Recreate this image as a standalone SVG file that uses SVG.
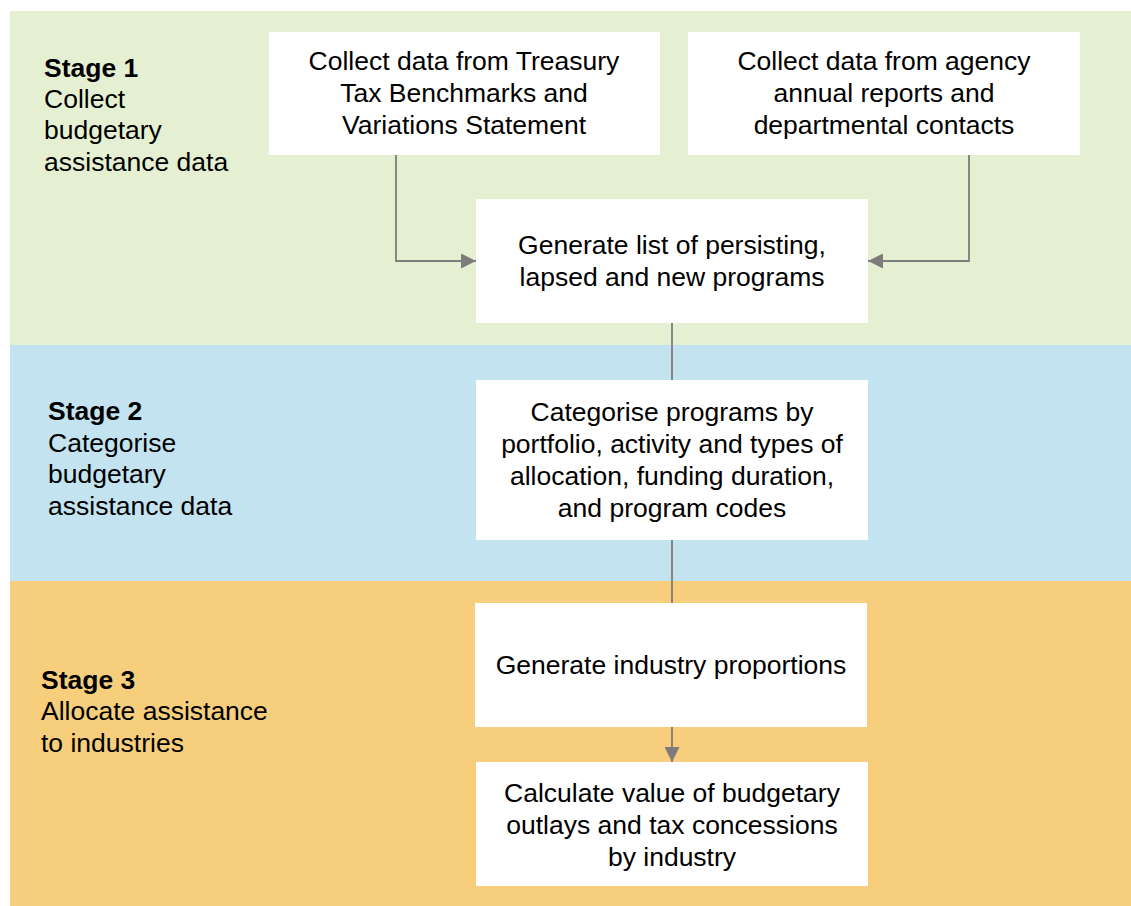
<svg xmlns="http://www.w3.org/2000/svg" width="1131" height="906" viewBox="0 0 1131 906">
<style>
text{font-family:"Liberation Sans",Arial,sans-serif;font-size:26.5px;fill:#000}
.c{text-anchor:middle}
.b{font-weight:bold}
.box{fill:#fff}
.ln{stroke:#7f7b7a;stroke-width:1.8;fill:none}
</style>
<defs>
<marker id="ah" viewBox="0 0 10 10" refX="10" refY="5" markerWidth="17" markerHeight="15" markerUnits="userSpaceOnUse" orient="auto">
<path d="M0,0L10,5L0,10z" fill="#7f7b7a"/>
</marker>
</defs>
<rect width="1131" height="906" fill="#fff"/>
<g id="bands">
<rect x="10" y="11" width="1121" height="334" fill="#e5f0d3"/>
<rect x="10" y="345" width="1121" height="236" fill="#c2e3ef"/>
<rect x="10" y="581" width="1121" height="325" fill="#f7cf7c"/>
</g>
<g id="stage1"><text x="44" y="77" class="b">Stage 1</text><text x="44" y="108">Collect</text><text x="44" y="139">budgetary</text><text x="44" y="171">assistance data</text></g>
<g id="stage2"><text x="48" y="420" class="b">Stage 2</text><text x="48" y="452">Categorise</text><text x="48" y="483">budgetary</text><text x="48" y="515">assistance data</text></g>
<g id="stage3"><text x="41" y="689" class="b">Stage 3</text><text x="41" y="720">Allocate assistance</text><text x="41" y="752">to industries</text></g>
<g id="connectors">
<polyline class="ln" points="396,155 396,261 476,261" marker-end="url(#ah)"/>
<polyline class="ln" points="969,155 969,261 868,261" marker-end="url(#ah)"/>
<line class="ln" x1="672" y1="323" x2="672" y2="380"/>
<line class="ln" x1="672" y1="540" x2="672" y2="603"/>
<line class="ln" x1="672" y1="727" x2="672" y2="762" marker-end="url(#ah)"/>
</g>
<g id="nodeA"><rect class="box" x="269" y="32" width="391" height="123"/><text class="c" x="464" y="70">Collect data from Treasury</text><text class="c" x="464" y="102">Tax Benchmarks and</text><text class="c" x="464" y="134">Variations Statement</text></g>
<g id="nodeB"><rect class="box" x="688" y="32" width="392" height="123"/><text class="c" x="884" y="70">Collect data from agency</text><text class="c" x="884" y="102">annual reports and</text><text class="c" x="884" y="134">departmental contacts</text></g>
<g id="nodeC"><rect class="box" x="476" y="199" width="392" height="124"/><text class="c" x="672" y="254">Generate list of persisting,</text><text class="c" x="672" y="286">lapsed and new programs</text></g>
<g id="nodeD"><rect class="box" x="476" y="380" width="392" height="160"/><text class="c" x="672" y="421">Categorise programs by</text><text class="c" x="672" y="453">portfolio, activity and types of</text><text class="c" x="672" y="485">allocation, funding duration,</text><text class="c" x="672" y="517">and program codes</text></g>
<g id="nodeE"><rect class="box" x="475" y="603" width="392" height="124"/><text class="c" x="671" y="674">Generate industry proportions</text></g>
<g id="nodeF"><rect class="box" x="476" y="762" width="392" height="124"/><text class="c" x="672" y="802">Calculate value of budgetary</text><text class="c" x="672" y="834">outlays and tax concessions</text><text class="c" x="672" y="866">by industry</text></g>
</svg>
